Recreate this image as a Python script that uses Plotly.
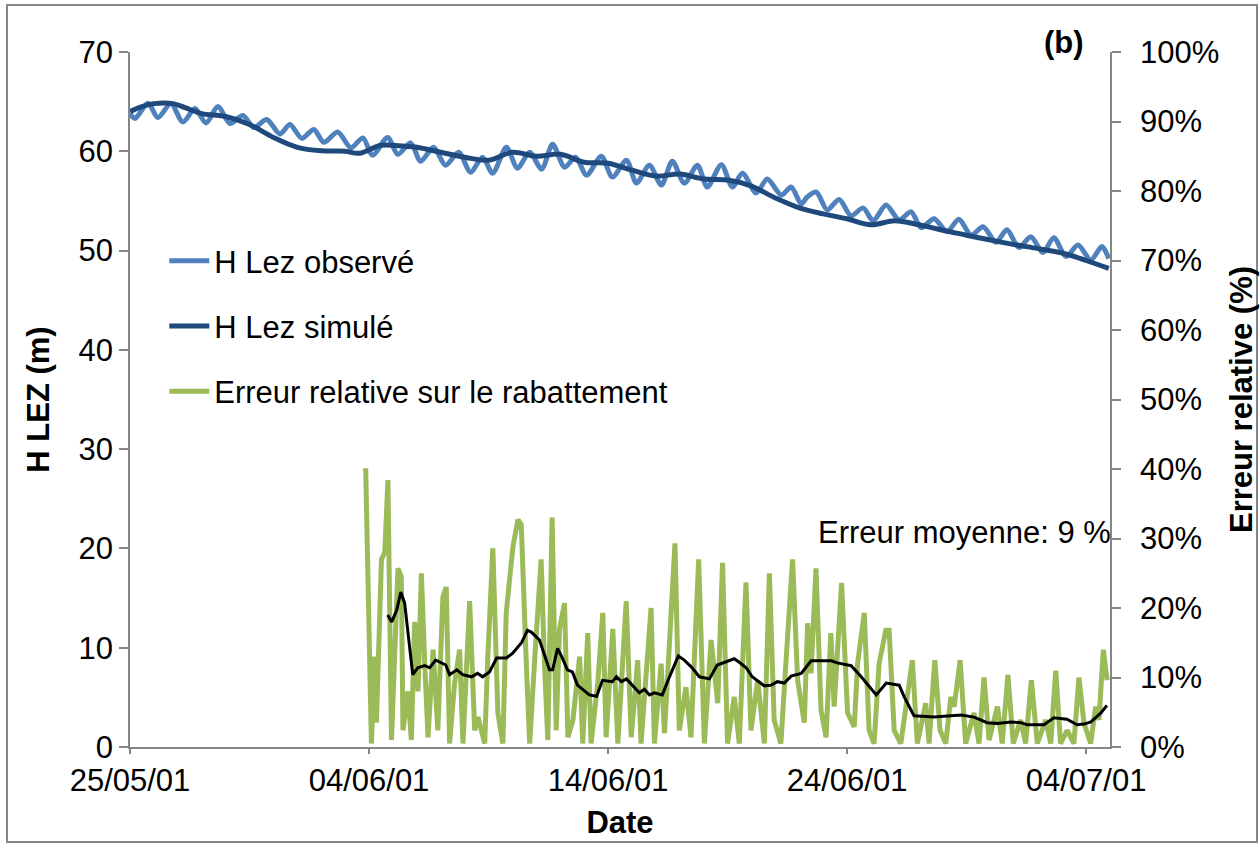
import pandas as pd
import plotly.graph_objects as go

# ---- time axis: offsets in days from 25/05/2001 00:00 ----
START = pd.Timestamp("2001-05-25")
END = pd.Timestamp("2001-07-05")
tick_dates = ["2001-05-25", "2001-06-04", "2001-06-14", "2001-06-24", "2001-07-04"]
tick_labels = ["25/05/01", "04/06/01", "14/06/01", "24/06/01", "04/07/01"]

# ---- observed head of the Lez (m), daily oscillation peaks/troughs ----
obs_day = [0, 0.21, 0.75, 1.17, 1.71, 2.21, 2.72, 3.18, 3.68, 4.18,
           4.72, 5.18, 5.72, 6.27, 6.69, 7.19, 7.69, 8.11, 8.69, 9.24,
           9.74, 10.15, 10.78, 11.2, 11.74, 12.16, 12.7, 13.2, 13.75, 14.25,
           14.75, 15.17, 15.75, 16.21, 16.72, 17.22, 17.68, 18.18, 18.64, 19.1,
           19.72, 20.18, 20.77, 21.19, 21.73, 22.23, 22.69, 23.19, 23.74, 24.15,
           24.74, 25.2, 25.62, 26.2, 26.66, 27.25, 27.66, 28.08, 28.33, 28.71,
           29.17, 29.67, 30.17, 30.67, 31.09, 31.63, 32.18, 32.68, 33.1, 33.64,
           34.18, 34.68, 35.19, 35.69, 36.23, 36.69, 37.19, 37.69, 38.19, 38.65,
           39.16, 39.66, 40.2, 40.66, 40.95]
obs_h = [63.8, 63.3, 64.85, 63.4, 64.8, 62.95, 64.3, 62.85, 64.5, 62.8,
         63.6, 62.4, 63.2, 61.75, 62.7, 61.3, 62.2, 60.9, 61.95, 60.35,
         61.35, 59.6, 61.4, 59.7, 60.85, 59.0, 60.4, 58.6, 59.9, 57.9,
         59.4, 57.8, 60.4, 58.3, 59.9, 58.2, 60.7, 58.4, 59.4, 57.6,
         59.5, 57.4, 59.1, 56.8, 58.6, 56.6, 59.0, 56.8, 58.6, 56.4,
         58.65, 56.4, 57.8, 55.8, 57.2, 55.6, 56.4, 54.7, 55.4, 55.9,
         54.1, 55.15, 53.5, 54.3, 53.0, 54.6, 53.1, 53.9, 52.3, 53.2,
         51.9, 53.15, 51.55, 52.4, 50.85, 52.1, 50.3, 51.4, 49.8, 51.3,
         49.4, 50.55, 49.05, 50.4, 49.2]

# ---- simulated head of the Lez (m) ----
sim_day = [0, 0.5, 1, 1.8, 2.3, 3, 4, 5, 6, 7, 8, 9, 9.6, 10.5, 11.5, 12, 13, 14,
           15, 16, 17, 18, 19, 20, 21, 22, 23, 24, 25, 26, 27, 28, 29, 30,
           31, 32, 33, 34, 35, 36, 37, 38, 39, 40, 40.95]
sim_h = [64.0, 64.5, 64.8, 64.8, 64.4, 63.8, 63.5, 62.7, 61.4, 60.4, 60.05, 60.0, 59.8, 60.6, 60.5, 60.4, 59.9, 59.4,
         59.1, 59.9, 59.5, 59.7, 58.9, 58.8, 58.1, 57.5, 57.7, 57.2, 57.1, 56.5, 55.3, 54.3, 53.7, 53.2,
         52.6, 53.0, 52.6, 52.05, 51.55, 51.05, 50.6, 50.2, 49.75, 49.0, 48.2]

# ---- relative error on the drawdown (%) ----
err_day = [9.86, 10.10, 10.24, 10.31, 10.52, 10.66, 10.79, 10.94, 11.21, 11.35,
           11.42, 11.63, 11.77, 11.91, 12.05, 12.19, 12.33, 12.47, 12.68, 12.88,
           13.09, 13.23, 13.37, 13.58, 13.79, 13.93, 14.21, 14.42, 14.56, 14.84,
           14.97, 15.18, 15.39, 15.60, 15.74, 16.02, 16.23, 16.37, 16.58, 16.72,
           16.92, 17.20, 17.34, 17.48, 17.66, 17.83, 17.97, 18.18, 18.32, 18.53,
           18.81, 18.94, 19.15, 19.29, 19.57, 19.78, 19.92, 20.20, 20.41, 20.76,
           20.97, 21.24, 21.38, 21.80, 21.94, 22.22, 22.36, 22.57, 22.80, 22.98,
           23.26, 23.47, 23.79, 24.03, 24.31, 24.59, 24.79, 25.00, 25.28, 25.49,
           25.77, 25.98, 26.26, 26.54, 26.75, 26.95, 27.23, 27.44, 27.72, 27.93,
           28.21, 28.35, 28.49, 28.70, 28.91, 29.12, 29.32, 29.46, 29.77, 30.02,
           30.30, 30.44, 30.72, 30.92, 31.13, 31.34, 31.62, 31.76, 31.97, 32.25,
           32.52, 32.73, 32.94, 33.29, 33.43, 33.67, 33.89, 34.13, 34.34, 34.48,
           34.73, 34.96, 35.31, 35.52, 35.73, 35.94, 36.29, 36.49, 36.73, 36.95,
           37.26, 37.47, 37.71, 37.96, 38.31, 38.52, 38.73, 38.93, 39.21, 39.49,
           39.70, 39.91, 40.19, 40.40, 40.54, 40.72, 40.88]
err_pct = [40.1, 0.5, 13, 3.5, 27, 28, 38.4, 1, 25.7, 24.5,
           2.4, 8, 1, 18, 8, 25, 12, 1.4, 14, 2.4,
           21.6, 23, 0.5, 9.2, 14, 0.5, 21, 2.4, 4.3, 0.5,
           13, 28.6, 4.9, 0.5, 19.3, 28.8, 32.7, 32, 12, 0.5,
           12, 27, 12, 1, 33, 2.4, 17, 20.7, 1.4, 3.9,
           13, 0.5, 16.4, 0.5, 9.2, 19.3, 1.4, 17, 0.5, 21,
           1.4, 12.5, 0.5, 20, 0.5, 12, 2, 14.4, 29.3, 2.4,
           8.6, 1.4, 27, 0.5, 15.4, 6.3, 26.5, 0.5, 7.2, 0.5,
           23.7, 2.4, 9.6, 0.5, 25, 3.9, 0.5, 12, 27, 9.6,
           3.5, 17.8, 10.6, 25.7, 5.3, 1.4, 16.4, 5.8, 23.6, 4.9,
           2.9, 12, 19.3, 2.4, 0.5, 12, 16.8, 16.8, 2.4, 0.5,
           7.2, 12.5, 0.5, 6.3, 0.5, 12.5, 2.4, 0.5, 7.2, 5.8,
           12.5, 0.5, 4.9, 0.5, 10, 1, 5.8, 0.5, 10.4, 0.5,
           3.9, 0.5, 9.6, 0.5, 3.9, 0.5, 11, 0.5, 2.4, 0.5,
           10, 3.5, 0.5, 5.8, 3.9, 14, 9.6]

# ---- moving mean of the relative error (%) ----
mean_day = [10.78, 10.95, 11.16, 11.33, 11.49, 11.83, 12.04, 12.33, 12.54, 12.79,
            13.21, 13.37, 13.67, 13.92, 14.29, 14.54, 14.75, 15.04, 15.34, 15.75,
            16.01, 16.38, 16.63, 16.80, 17.13, 17.55, 17.68, 17.89, 18.09, 18.30,
            18.51, 18.72, 19.22, 19.52, 19.77, 20.18, 20.35, 20.56, 20.77, 21.02,
            21.31, 21.52, 21.73, 21.94, 22.27, 22.57, 22.94, 23.19, 23.49, 23.82,
            24.24, 24.57, 24.86, 25.28, 25.49, 25.78, 26.03, 26.33, 26.54, 26.83,
            27.08, 27.37, 27.66, 28.08, 28.50, 29.34, 29.59, 30.17, 30.59, 31.22,
            31.64, 32.18, 32.39, 32.80, 33.64, 34.77, 35.31, 35.86, 36.27, 36.86,
            37.28, 37.53, 38.24, 38.65, 39.20, 39.62, 39.91, 40.20, 40.62, 40.87]
mean_pct = [19.0, 18.0, 19.7, 22.3, 20.7, 10.4, 11.4, 11.7, 11.4, 12.5,
            11.8, 10.4, 11.1, 10.4, 10.1, 10.6, 10.1, 10.8, 12.8, 12.8,
            13.5, 15.0, 16.8, 16.5, 15.4, 11.1, 11.1, 14.2, 12.8, 11.1,
            10.8, 8.9, 7.5, 7.3, 9.6, 9.4, 10.1, 9.4, 9.8, 8.9,
            7.8, 8.3, 7.5, 7.8, 7.5, 10.1, 13.1, 12.5, 11.5, 10.1,
            9.8, 11.8, 12.2, 12.7, 12.2, 11.4, 10.1, 9.4, 8.8, 8.9,
            9.4, 9.2, 10.2, 10.6, 12.4, 12.4, 12.1, 11.7, 10.1, 7.5,
            9.2, 8.9, 7.2, 4.5, 4.3, 4.6, 4.3, 3.5, 3.4, 3.6,
            3.5, 3.2, 3.2, 4.2, 4.0, 3.2, 3.3, 3.6, 4.9, 6.0]


def to_dates(days):
    return [START + pd.Timedelta(days=d) for d in days]


AXIS_GREY = "#868686"
FONT = "Liberation Sans, Arial, sans-serif"
FS = 31

fig = go.Figure()

fig.add_trace(go.Scatter(
    x=to_dates(obs_day), y=obs_h, name="H Lez observé", mode="lines",
    line=dict(color="#4F81BD", width=5, shape="spline", smoothing=0.8),
    legendgroup="g1"))
fig.add_trace(go.Scatter(
    x=to_dates(sim_day), y=sim_h, name="H Lez simulé", mode="lines",
    line=dict(color="#1F497D", width=5, shape="spline", smoothing=1.0),
    legendgroup="g2"))
fig.add_trace(go.Scatter(
    x=to_dates(err_day), y=[v / 100 for v in err_pct],
    name="Erreur relative sur le rabattement", mode="lines",
    line=dict(color="#9BBB59", width=5), yaxis="y2", legendgroup="g3"))
fig.add_trace(go.Scatter(
    x=to_dates(mean_day), y=[v / 100 for v in mean_pct],
    name="Erreur moyenne glissante", mode="lines",
    line=dict(color="#000000", width=3), yaxis="y2", showlegend=False))

axis_common = dict(showline=True, linecolor=AXIS_GREY, linewidth=1.5,
                   ticks="outside", tickcolor=AXIS_GREY, tickwidth=1.5,
                   showgrid=False, zeroline=False, automargin=False,
                   tickfont=dict(family=FONT, size=FS, color="#000000"))

fig.update_layout(
    width=1260, height=844,
    margin=dict(l=130, r=150, t=52, b=97),
    paper_bgcolor="white", plot_bgcolor="white",
    font=dict(family=FONT, size=FS, color="#000000"),
    xaxis=dict(type="date", range=[START, END],
               tickmode="array", tickvals=tick_dates, ticktext=tick_labels,
               ticklen=5,
               title=dict(text="<b>Date</b>", standoff=14,
                          font=dict(family=FONT, size=FS)),
               **axis_common),
    yaxis=dict(range=[0, 70], dtick=10, ticklen=9,
               title=dict(text="<b>H LEZ (m)</b>", standoff=20,
                          font=dict(family=FONT, size=FS)),
               **axis_common),
    yaxis2=dict(range=[0, 1], dtick=0.1, tickformat=".0%", ticklen=9,
                overlaying="y", side="right", ticklabelstandoff=13,
                title=dict(text="<b>Erreur relative (%)</b>", standoff=12,
                           font=dict(family=FONT, size=FS)),
                **axis_common),
    legend=dict(x=0.035, y=0.738, xanchor="left", yanchor="top",
                traceorder="grouped", tracegroupgap=22,
                bgcolor="rgba(0,0,0,0)", font=dict(family=FONT, size=FS),
                itemwidth=40),
    showlegend=True,
)

fig.add_annotation(text="Erreur moyenne: 9 %", xref="paper", yref="paper",
                   x=1.003, y=0.308, xanchor="right", yanchor="middle",
                   showarrow=False, font=dict(family=FONT, size=FS))
fig.add_annotation(text="<b>(b)</b>", xref="paper", yref="paper",
                   x=0.953, y=1.014, xanchor="center", yanchor="middle",
                   showarrow=False, font=dict(family=FONT, size=FS))

# outer chart frame
fig.add_shape(type="rect", xref="paper", yref="paper",
              x0=(7 - 130) / 980, x1=(1257 - 130) / 980,
              y0=(747 - 842) / 695, y1=(747 - 5) / 695,
              line=dict(color=AXIS_GREY, width=2), fillcolor="rgba(0,0,0,0)",
              layer="below")

fig.write_html("out.html")
